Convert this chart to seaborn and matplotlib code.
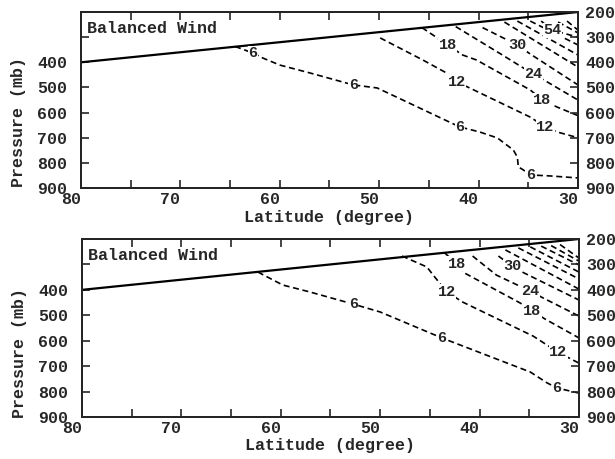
import matplotlib
matplotlib.use("Agg")
import matplotlib.pyplot as plt
import pandas as pd
import seaborn as sns

# Tropopause (solid line): latitude in degrees, pressure in mb
tropo_lat = [80, 30]
tropo_p = [400, 200]

# ---------------- Upper panel: balanced-wind isotachs (m/s) ----------------
top_levels = [6, 12, 18, 24, 30, 36, 42, 48, 54, 60, 66]

top_lat_06 = [64.5, 62.7, 61.7, 60.0, 57.0, 52.6, 50.2, 41.9, 39.9, 38.1, 36.5, 36.1, 36.0, 35.5, 34.8, 32.8, 30.0]
top_p_06 = [337, 363, 383, 411, 442, 490, 502, 657, 677, 701, 749, 777, 816, 828, 848, 852, 860]
top_lat_12 = [49.9, 45.6, 43.2, 42.2, 40.9, 34.8, 33.3, 32.1, 30.0]
top_p_12 = [303, 391, 443, 478, 502, 618, 657, 677, 700]
top_lat_18 = [45.7, 43.1, 41.6, 40.2, 34.8, 33.6, 32.1, 30.0]
top_p_18 = [262, 331, 371, 391, 510, 550, 578, 612]
top_lat_24 = [42.3, 37.6, 34.5, 33.1, 30.0]
top_p_24 = [258, 371, 447, 478, 550]
top_lat_30 = [39.6, 36.1, 34.8, 30.0]
top_p_30 = [262, 331, 367, 490]
top_lat_36 = [37.4, 30.0]
top_p_36 = [240, 419]
top_lat_42 = [36.1, 30.0]
top_p_42 = [236, 371]
top_lat_48 = [34.8, 30.0]
top_p_48 = [236, 331]
top_lat_54 = [33.7, 32.6, 30.0]
top_p_54 = [236, 272, 300]
top_lat_60 = [32.0, 30.0]
top_p_60 = [240, 283]
top_lat_66 = [31.1, 30.0]
top_p_66 = [236, 272]

top_label_level = [6, 6, 6, 6, 12, 12, 18, 18, 24, 30, 54]
top_label_lat = [62.7, 52.6, 41.9, 34.8, 42.2, 33.3, 43.1, 33.6, 34.5, 36.1, 32.6]
top_label_p = [363, 490, 657, 848, 478, 657, 331, 550, 447, 331, 272]

# ---------------- Lower panel: balanced-wind isotachs (m/s) ----------------
bot_levels = [6, 12, 18, 24, 30, 36, 42, 48, 54, 60, 66]

bot_lat_06 = [62.3, 59.8, 57.1, 52.7, 50.0, 43.8, 34.9, 33.2, 32.2, 30.0]
bot_p_06 = [330, 381, 408, 456, 487, 589, 723, 766, 786, 806]
bot_lat_12 = [47.8, 45.3, 44.5, 43.3, 41.7, 34.6, 32.9, 32.1, 30.0]
bot_p_12 = [267, 310, 350, 408, 448, 582, 625, 646, 688]
bot_lat_18 = [43.5, 42.3, 41.5, 35.9, 34.7, 33.4, 30.0]
bot_p_18 = [255, 298, 334, 452, 483, 515, 589]
bot_lat_24 = [40.7, 38.3, 34.9, 33.6, 30.0]
bot_p_24 = [267, 342, 405, 432, 503]
bot_lat_30 = [38.1, 36.7, 35.7, 30.0]
bot_p_30 = [267, 308, 330, 440]
bot_lat_36 = [37.4, 30.0]
bot_p_36 = [243, 397]
bot_lat_42 = [36.1, 30.0]
bot_p_42 = [235, 357]
bot_lat_48 = [34.9, 30.0]
bot_p_48 = [231, 330]
bot_lat_54 = [33.8, 30.0]
bot_p_54 = [228, 302]
bot_lat_60 = [32.8, 30.0]
bot_p_60 = [226, 287]
bot_lat_66 = [31.9, 30.0]
bot_p_66 = [222, 275]

bot_label_level = [6, 6, 6, 12, 12, 18, 18, 24, 30]
bot_label_lat = [52.7, 43.8, 32.2, 43.3, 32.1, 42.3, 34.7, 34.9, 36.7]
bot_label_p = [456, 589, 786, 408, 646, 298, 483, 405, 308]

# Axis ticks and labels
lat_major = [80, 70, 60, 50, 40, 30]
lat_minor = [75, 65, 55, 45, 35]
p_ticks = [200, 300, 400, 500, 600, 700, 800, 900]
p_left_labels = ["", "", "400", "500", "600", "700", "800", "900"]
p_right_labels = ["200", "300", "400", "500", "600", "700", "800", "900"]
panel_title = "Balanced Wind"
x_title = "Latitude (degree)"
y_title = "Pressure (mb)"

sns.set_style("ticks")
plt.rcParams["font.family"] = ["Liberation Mono", "DejaVu Sans Mono"]
plt.rcParams["font.weight"] = "bold"
plt.rcParams["font.size"] = 12
plt.rcParams["axes.linewidth"] = 1.4
plt.rcParams["axes.labelweight"] = "bold"


def isotach_frame(levels, lats, ps):
    rows = []
    for lev, la, pp in zip(levels, lats, ps):
        for i, (x, y) in enumerate(zip(la, pp)):
            rows.append({"lat": x, "p": y, "level": lev, "order": i})
    return pd.DataFrame(rows)


def draw_panel(ax, df, lab_lev, lab_lat, lab_p, label_y, title_y):
    sns.lineplot(data=df, x="lat", y="p", units="level", estimator=None,
                 sort=False, color="black", lw=1.2,
                 linestyle=(0, (3.6, 2.2)), ax=ax, legend=False)
    sns.lineplot(x=tropo_lat, y=tropo_p, estimator=None, sort=False,
                 color="black", lw=1.6, ax=ax)
    for lev, x, y in zip(lab_lev, lab_lat, lab_p):
        ax.text(x, y, str(lev), ha="center", va="center", fontsize=11,
                fontweight="bold",
                bbox=dict(facecolor="white", edgecolor="none", pad=0.3),
                zorder=5)

    ax.set_xlim(80, 30)
    ax.set_ylim(900, 200)
    ax.set_xticks(lat_major)
    ax.set_xticks(lat_minor, minor=True)
    ax.set_xticklabels([str(v) for v in lat_major])
    for lbl in ax.get_xticklabels():
        lbl.set_ha("right")
    ax.set_yticks(p_ticks)
    ax.set_yticklabels(p_left_labels)
    ax.tick_params(axis="x", which="both", direction="in", top=True,
                   bottom=True, length=6, width=1.2, pad=3, labelsize=12)
    ax.tick_params(axis="y", which="both", direction="in", left=True,
                   right=False, length=6, width=1.2, pad=10, labelsize=12)

    ax_r = ax.twinx()
    ax_r.set_ylim(900, 200)
    ax_r.set_yticks(p_ticks)
    ax_r.set_yticklabels(p_right_labels)
    ax_r.tick_params(axis="y", direction="in", length=6, width=1.2, pad=5,
                     labelsize=12)

    ax.set_xlabel(x_title, fontsize=12, fontweight="bold")
    ax.set_ylabel(y_title, fontsize=12, fontweight="bold")
    ax.xaxis.label.set_va("center")
    ax.yaxis.label.set_va("center")
    ax.xaxis.set_label_coords(0.5, label_y)
    ax.yaxis.set_label_coords(-0.125, title_y)
    ax.text(0.012, 0.905, panel_title, transform=ax.transAxes, ha="left",
            va="center", fontsize=12, fontweight="bold")
    for s in ax.spines.values():
        s.set_linewidth(1.4)
        s.set_color("black")


fig = plt.figure(figsize=(6.15, 4.59), dpi=100)
ax_top = fig.add_axes([0.1317, 0.5904, 0.8081, 0.3834])
ax_bot = fig.add_axes([0.1333, 0.0915, 0.8081, 0.3878])

top_df = isotach_frame(
    top_levels,
    [top_lat_06, top_lat_12, top_lat_18, top_lat_24, top_lat_30, top_lat_36,
     top_lat_42, top_lat_48, top_lat_54, top_lat_60, top_lat_66],
    [top_p_06, top_p_12, top_p_18, top_p_24, top_p_30, top_p_36,
     top_p_42, top_p_48, top_p_54, top_p_60, top_p_66])
bot_df = isotach_frame(
    bot_levels,
    [bot_lat_06, bot_lat_12, bot_lat_18, bot_lat_24, bot_lat_30, bot_lat_36,
     bot_lat_42, bot_lat_48, bot_lat_54, bot_lat_60, bot_lat_66],
    [bot_p_06, bot_p_12, bot_p_18, bot_p_24, bot_p_30, bot_p_36,
     bot_p_42, bot_p_48, bot_p_54, bot_p_60, bot_p_66])

draw_panel(ax_top, top_df, top_label_level, top_label_lat, top_label_p,
           -0.168, 0.375)
draw_panel(ax_bot, bot_df, bot_label_level, bot_label_lat, bot_label_p,
           -0.160, 0.36)

fig.savefig("out.png", dpi=100)
